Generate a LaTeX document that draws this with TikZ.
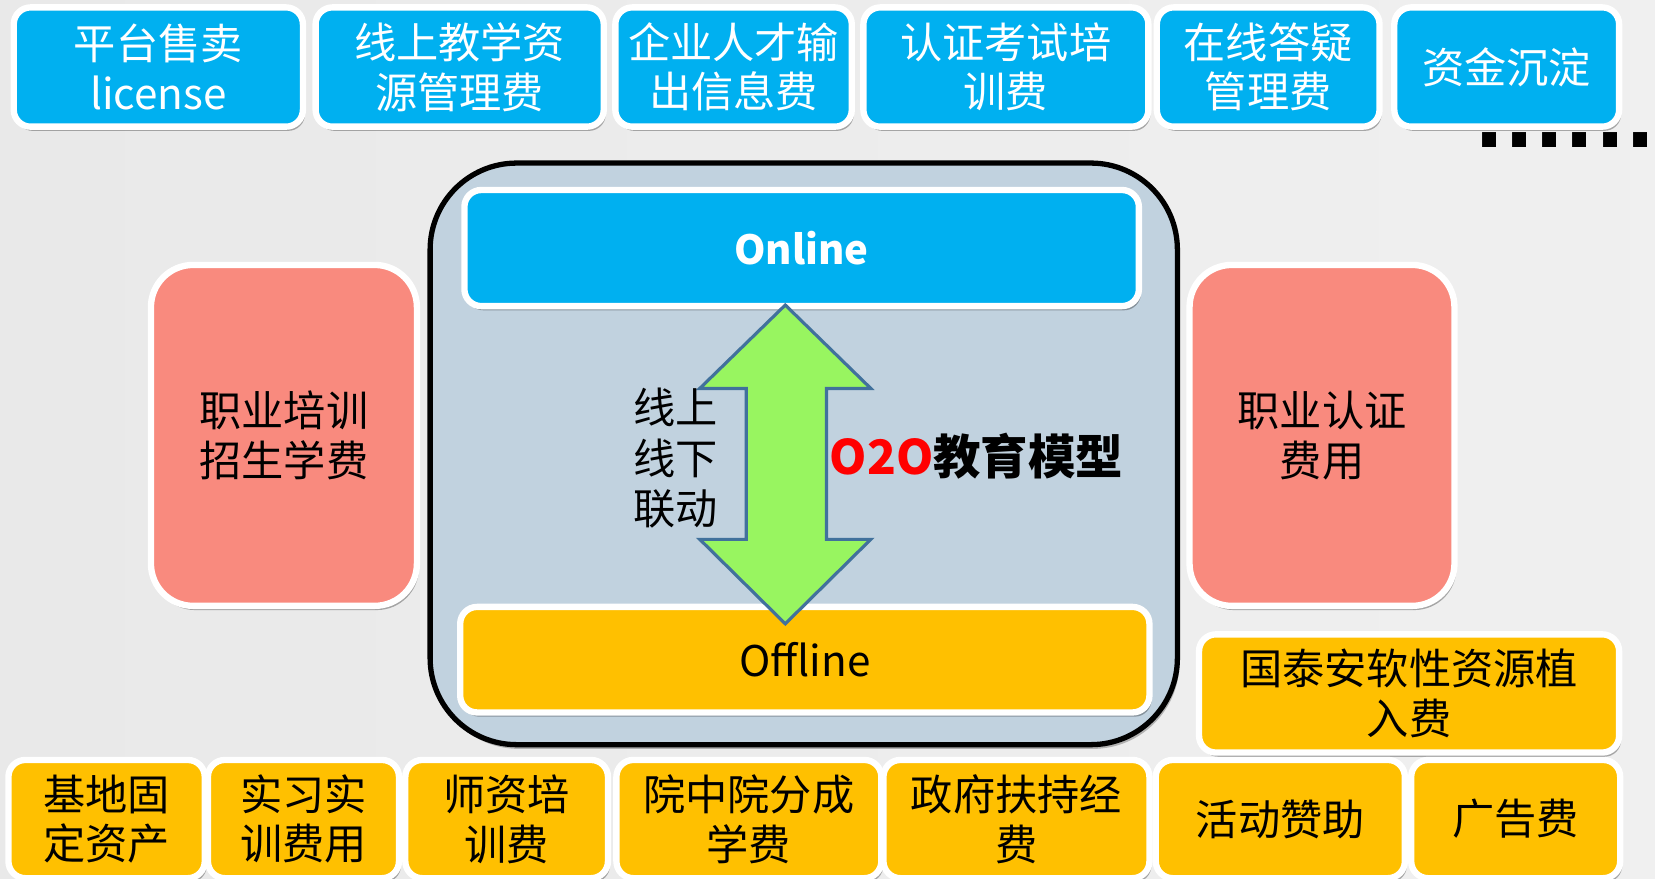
\documentclass[tikz,border=0pt]{standalone}
\usepackage{fontspec}
\setmainfont{Noto Sans CJK SC}
\newfontfamily\dotfont{DejaVu Sans}
\usetikzlibrary{shadows}
\definecolor{pblue}{HTML}{00B0F0}
\definecolor{porange}{HTML}{FFC000}
\definecolor{psalmon}{HTML}{F98A7E}
\definecolor{pcont}{HTML}{C1D2DF}
\definecolor{pgreen}{HTML}{98F560}
\definecolor{parrow}{HTML}{41719C}
\definecolor{pbg}{HTML}{E9E9E9}
\begin{document}
\begin{tikzpicture}[x=1pt,y=-1pt,
  card/.style={rounded corners=16pt, draw=white, line width=6pt, align=center, inner sep=0pt,
    drop shadow={shadow xshift=2pt, shadow yshift=-4pt, opacity=0.3, fill=black}},
  cardtext/.style={font=\fontsize{40}{47}\selectfont},
  bluecard/.style={card, cardtext, fill=pblue, text=white},
  orangecard/.style={card, cardtext, fill=porange, text=black},
  pinkcard/.style={card, cardtext, fill=psalmon, text=black, rounded corners=40pt},
]
\useasboundingbox (0,0) rectangle (1568,832);
\shade[left color=pbg, right color=pbg!70!white] (0,0) rectangle (1568,832);

% top row
\node[bluecard, minimum width=274pt, minimum height=113pt] (t1) at (150,63.5) {平台售卖\\license};
\node[bluecard, minimum width=273pt, minimum height=113pt] (t2) at (435.5,63.5) {线上教学资\\源管理费};
\node[bluecard, minimum width=224pt, minimum height=113pt] (t3) at (695,63.5) {企业人才输\\出信息费};
\node[bluecard, minimum width=270pt, minimum height=113pt] (t4) at (953,63.5) {认证考试培\\训费};
\node[bluecard, minimum width=211pt, minimum height=113pt] (t5) at (1201.5,63.5) {在线答疑\\管理费};
\node[bluecard, minimum width=213pt, minimum height=113pt] (t6) at (1427.5,63.5) {资金沉淀};
\node[font=\dotfont\bfseries\fontsize{75}{75}\selectfont, anchor=base west, inner sep=0pt] (more) at (1397,140) {......};

% central model
\node[draw=black, line width=5pt, fill=pcont, rounded corners=82pt, minimum width=708pt, minimum height=551pt,
  drop shadow={shadow xshift=2pt, shadow yshift=-4pt, opacity=0.25, fill=black}] (model) at (761.5,430) {};
\node[bluecard, minimum width=639pt, minimum height=110pt, font=\bfseries\fontsize{38}{44}\selectfont] (online) at (759.5,235) {Online};
\node[orangecard, minimum width=653pt, minimum height=100pt] (offline) at (762.5,625) {Offline};
\draw[fill=pgreen, draw=parrow, line width=3pt, line join=miter]
  (744,289) -- (825,368) -- (783,368) -- (783,511) -- (825,511) -- (744,591)
  -- (663,511) -- (707,511) -- (707,368) -- (663,368) -- cycle;
\node[font=\fontsize{40}{48}\selectfont, align=left, inner sep=0pt] (link) at (640,434) {线上\\线下\\联动};
\node[font=\bfseries\fontsize{45}{50}\selectfont, anchor=west, inner sep=0pt] (o2o) at (786,432) {\textcolor{red}{O2O}教育模型};

% side boxes
\node[pinkcard, minimum width=252pt, minimum height=323pt] (left) at (269,412.5) {职业培训\\招生学费};
\node[pinkcard, minimum width=251pt, minimum height=323pt] (right) at (1252.5,412.5) {职业认证\\费用};
\node[orangecard, minimum width=398pt, minimum height=112pt] (gta) at (1335,657) {国泰安软性资源植\\入费};

% bottom row
\node[orangecard, minimum width=186pt, minimum height=112pt] (b1) at (101,776) {基地固\\定资产};
\node[orangecard, minimum width=181pt, minimum height=112pt] (b2) at (287.5,776) {实习实\\训费用};
\node[orangecard, minimum width=192pt, minimum height=112pt] (b3) at (480,776) {师资培\\训费};
\node[orangecard, minimum width=251pt, minimum height=112pt] (b4) at (709.5,776) {院中院分成\\学费};
\node[orangecard, minimum width=252pt, minimum height=112pt] (b5) at (963,776) {政府扶持经\\费};
\node[orangecard, minimum width=236pt, minimum height=112pt] (b6) at (1213,776) {活动赞助};
\node[orangecard, minimum width=198pt, minimum height=112pt] (b7) at (1436,776) {广告费};
\end{tikzpicture}
\end{document}
